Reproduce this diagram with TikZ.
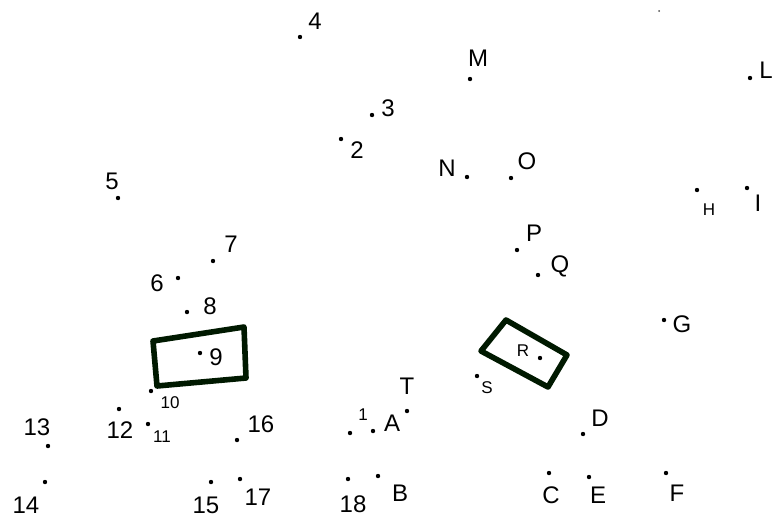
\documentclass[tikz,border=0pt]{standalone}
\usepackage{fontspec}
\setmainfont{Liberation Sans}
\usetikzlibrary{positioning}

\begin{document}
\begin{tikzpicture}[
    x=1pt, y=-1pt,
    dot/.style={circle, fill=black, inner sep=0pt, minimum size=4.4pt},
    speck/.style={circle, fill=black!70, inner sep=0pt, minimum size=2pt},
    tag/.style={font=\fontsize{24}{24}\selectfont, inner sep=0pt},
    smalltag/.style={font=\fontsize{17}{17}\selectfont, inner sep=0pt},
    frame/.style={draw=black!90!green, line width=5.6pt, line join=round},
]
  \useasboundingbox (0,0) rectangle (776,523);

  % numbered dots
  \node[dot] (d1) at (350,433) {};
  \node[dot] (d2) at (341,139) {};
  \node[dot] (d3) at (372,115) {};
  \node[dot] (d4) at (300,37) {};
  \node[dot] (d5) at (118,198) {};
  \node[dot] (d6) at (178,278) {};
  \node[dot] (d7) at (213,261) {};
  \node[dot] (d8) at (187,312) {};
  \node[dot] (d9) at (200,353) {};
  \node[dot] (d10) at (151,391) {};
  \node[dot] (d11) at (148,424) {};
  \node[dot] (d12) at (119,409) {};
  \node[dot] (d13) at (48,446) {};
  \node[dot] (d14) at (45,482) {};
  \node[dot] (d15) at (211,482) {};
  \node[dot] (d16) at (237,440) {};
  \node[dot] (d17) at (240,479) {};
  \node[dot] (d18) at (348,479) {};

  % lettered dots
  \node[dot] (dA) at (373,431) {};
  \node[dot] (dB) at (378,476) {};
  \node[dot] (dC) at (549,473) {};
  \node[dot] (dD) at (583,434) {};
  \node[dot] (dE) at (589,477) {};
  \node[dot] (dF) at (666,473) {};
  \node[dot] (dG) at (664,320) {};
  \node[dot] (dH) at (697,190) {};
  \node[dot] (dI) at (747,188) {};
  \node[dot] (dL) at (750,78) {};
  \node[dot] (dM) at (470,79) {};
  \node[dot] (dN) at (467,177) {};
  \node[dot] (dO) at (511,178) {};
  \node[dot] (dP) at (517,250) {};
  \node[dot] (dQ) at (538,275) {};
  \node[dot] (dR) at (540,358) {};
  \node[dot] (dS) at (477,376) {};
  \node[dot] (dT) at (407,411) {};
  \node[speck] (top) at (659,11) {};

  % number labels
  \node[smalltag] (l1) at (363,415) {1};
  \node[tag] (l2) at (357,150) {2};
  \node[tag] (l3) at (388,108) {3};
  \node[tag] (l4) at (315,21) {4};
  \node[tag] (l5) at (112,181) {5};
  \node[tag] (l6) at (157,283) {6};
  \node[tag] (l7) at (231,244) {7};
  \node[tag] (l8) at (210,306) {8};
  \node[tag] (l9) at (216,357) {9};
  \node[smalltag] (l10) at (170,403) {10};
  \node[smalltag] (l11) at (162,437) {11};
  \node[tag] (l12) at (120,430) {12};
  \node[tag] (l13) at (37,427) {13};
  \node[tag] (l14) at (26,505) {14};
  \node[tag] (l15) at (206,505) {15};
  \node[tag] (l16) at (261,424) {16};
  \node[tag] (l17) at (258,497) {17};
  \node[tag] (l18) at (353,504) {18};

  % letter labels
  \node[tag] (lA) at (392,423) {A};
  \node[tag] (lB) at (400,493) {B};
  \node[tag] (lC) at (551,495) {C};
  \node[tag] (lD) at (600,418) {D};
  \node[tag] (lE) at (598,495) {E};
  \node[tag] (lF) at (677,493) {F};
  \node[tag] (lG) at (682,324) {G};
  \node[smalltag] (lH) at (709,210) {H};
  \node[tag] (lI) at (758,203) {I};
  \node[tag] (lL) at (766,70) {L};
  \node[tag] (lM) at (478,58) {M};
  \node[tag] (lN) at (447,168) {N};
  \node[tag] (lO) at (527,161) {O};
  \node[tag] (lP) at (534,233) {P};
  \node[tag] (lQ) at (560,266) {Q};
  \node[smalltag] (lR) at (523,351) {R};
  \node[smalltag] (lS) at (487,388) {S};
  \node[tag] (lT) at (407,386) {T};

  % boxes round 9 and R
  \draw[frame] (153,341) -- (244,327) -- (246,378) -- (157,386) -- cycle;
  \draw[frame] (506,320) -- (567,355) -- (548,387) -- (481,351) -- cycle;
\end{tikzpicture}
\end{document}
